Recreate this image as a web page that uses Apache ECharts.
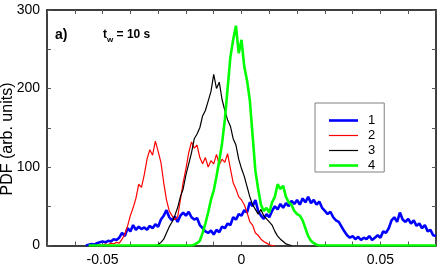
<!DOCTYPE html>
<html>
<head>
<meta charset="utf-8">
<script src="https://cdn.jsdelivr.net/npm/echarts@6/dist/echarts.min.js"></script>
<style>
html,body{margin:0;padding:0;background:#fff;}
#chart{width:442px;height:268px;}
</style>
</head>
<body>
<div id="chart"></div>
<script>
// Sampling grid of the histograms (x = displacement)
const xStep = 0.001;
const seriesNames = ['1', '2', '3', '4'];
const seriesStarts = [-0.056, -0.052, -0.031, -0.055];

// Series 1 (blue), from x = -0.056 to 0.070
const pdf1 = [
  0,1,2,1,3,4,5,4,6,5,
  8,7,10,16,12,22,18,26,20,24,
  21,23,20,25,22,27,24,33,38,45,
  36,32,37,30,38,42,38,43,36,33,
  35,26,22,18,16,19,14,20,17,24,
  22,28,26,36,33,40,38,45,42,55,
  50,58,44,38,34,40,36,44,50,46,
  53,48,54,50,57,53,58,52,60,55,
  62,54,58,52,56,48,44,40,43,36,
  32,30,24,18,13,10,12,8,11,7,
  10,8,12,7,10,13,10,18,16,22,
  32,36,30,42,33,30,34,28,32,25,
  28,22,26,18,20,13,12
];
// Series 2 (red), from x = -0.052 to 0.012
const pdf2 = [
  0,1,0,2,1,3,2,4,3,8,
  14,25,38,48,60,78,74,90,110,122,
  115,133,120,106,80,58,44,38,33,36,
  58,80,98,118,132,124,128,112,104,112,
  100,108,104,116,103,110,106,117,98,80,
  72,62,58,52,42,30,26,16,13,8,
  5,3,1,0,0
];
// Series 3 (black), from x = -0.031 to 0.018
const pdf3 = [
  0,1,4,8,16,24,30,38,48,62,
  72,90,104,118,136,142,150,165,172,184,
  196,218,200,208,186,172,160,152,136,128,
  110,98,88,75,62,52,46,40,46,38,
  34,30,26,18,12,8,5,2,1,0
];
// Series 4 (green), from x = -0.055 to 0.070
const pdf4 = [
  0,0,0,0,0,0,0,0,0,0,
  0,0,0,0,0,0,0,0,0,0,
  0,0,0,0,0,0,0,0,0,0,
  0,0,0,0,0,0,0,0,
  1,3,6,16,28,42,58,70,88,108,
  130,160,200,240,262,280,245,262,228,210,
  185,140,95,72,52,44,48,42,55,62,
  78,72,76,62,55,52,44,40,38,32,
  22,12,6,3,1,0,0,0,0,0,
  0,0,0,0,0,0,0,0,0,0,
  0,0,0,0,0,0,0,0,0,0,
  0,0,0,0,0,0,0,0,0,0,
  0,0,0,0,0,0,0,0
];
const xTickLabels = ['-0.05', '0', '0.05'];
const yTickLabels = ['0', '100', '200', '300'];

const allPdfs = [pdf1, pdf2, pdf3, pdf4];
const colors = ['#0000ff', '#ff0000', '#000000', '#00ff00'];
const widths = [2.6, 1.2, 1.2, 2.6];

function pairs(start, vals) {
  return vals.map((v, i) => [+(start + i * xStep).toFixed(4), v]);
}

const chart = echarts.init(document.getElementById('chart'), null, {renderer: 'canvas'});
const FONT = 'Liberation Sans, Arial, sans-serif';

const xLab = v => {
  const k = Math.round(v * 100);
  if (k === -5) return xTickLabels[0];
  if (k === 0) return xTickLabels[1];
  if (k === 5) return xTickLabels[2];
  return '';
};
const yLab = v => {
  const k = Math.round(v);
  const idx = [0, 100, 200, 300].indexOf(k);
  return idx >= 0 ? yTickLabels[idx] : '';
};

function axisCommon() {
  return {
    axisLine: {show: true, onZero: false, lineStyle: {color: '#000', width: 1.5}},
    axisTick: {show: true, inside: true, length: 4, lineStyle: {color: '#555', width: 1}},
    splitLine: {show: false}
  };
}

function lineIcon(w) {
  return 'path://M0,0L29,0L29,' + w + 'L0,' + w + 'Z';
}

chart.setOption({
  animation: false,
  backgroundColor: '#fff',
  grid: {left: 47, right: 6, top: 10, bottom: 22.5, containLabel: false},
  xAxis: [
    Object.assign({
      type: 'value', min: -0.07, max: 0.07, interval: 0.01, position: 'bottom',
      axisLabel: {formatter: xLab, color: '#000', fontSize: 14, fontFamily: FONT, margin: 8,
        showMinLabel: true, showMaxLabel: true, hideOverlap: false}
    }, axisCommon()),
    Object.assign({
      type: 'value', min: -0.07, max: 0.07, interval: 0.01, position: 'top',
      axisLabel: {show: false}
    }, axisCommon())
  ],
  yAxis: [
    Object.assign({
      type: 'value', min: 0, max: 300, interval: 50, position: 'left',
      axisLabel: {formatter: yLab, color: '#000', fontSize: 14, fontFamily: FONT, margin: 7}
    }, axisCommon()),
    Object.assign({
      type: 'value', min: 0, max: 300, interval: 50, position: 'right',
      axisLabel: {show: false}
    }, axisCommon())
  ],
  legend: {
    orient: 'vertical', left: 315, top: 103,
    padding: [11, 9, 0, 14],
    itemWidth: 29, itemHeight: 14, itemGap: 2,
    borderColor: '#808080', borderWidth: 1, backgroundColor: '#fff',
    textStyle: {fontSize: 13, fontFamily: FONT, color: '#000', padding: [0, 0, 0, 5]},
    data: seriesNames.map((n, i) => ({
      name: n, icon: lineIcon(widths[i]),
      itemStyle: {color: colors[i], borderWidth: 0}
    }))
  },
  series: allPdfs.map((vals, i) => ({
    name: seriesNames[i],
    type: 'line',
    xAxisIndex: 0, yAxisIndex: 0,
    symbol: 'none',
    color: colors[i],
    lineStyle: {color: colors[i], width: widths[i]},
    data: pairs(seriesStarts[i], vals)
  })),
  graphic: [
    {type: 'text', left: 55, top: 28, style: {text: 'a)', font: 'bold 14px ' + FONT, fill: '#000'}},
    {type: 'text', x: 103, y: 29, style: {
      text: '{t|t}{s|w}{t| = 10 s}',
      rich: {
        t: {fontSize: 12, fontFamily: FONT, fill: '#000', fontWeight: 'bold', verticalAlign: 'top'},
        s: {fontSize: 8, fontFamily: FONT, fill: '#000', fontWeight: 'bold', padding: [7, 0, 0, 0]}
      }
    }},
    {type: 'text', x: 8, y: 139, rotation: Math.PI / 2, style: {
      text: 'PDF (arb. units)', font: '16px ' + FONT, fill: '#000',
      align: 'center', verticalAlign: 'middle'
    }}
  ]
});
</script>
</body>
</html>
